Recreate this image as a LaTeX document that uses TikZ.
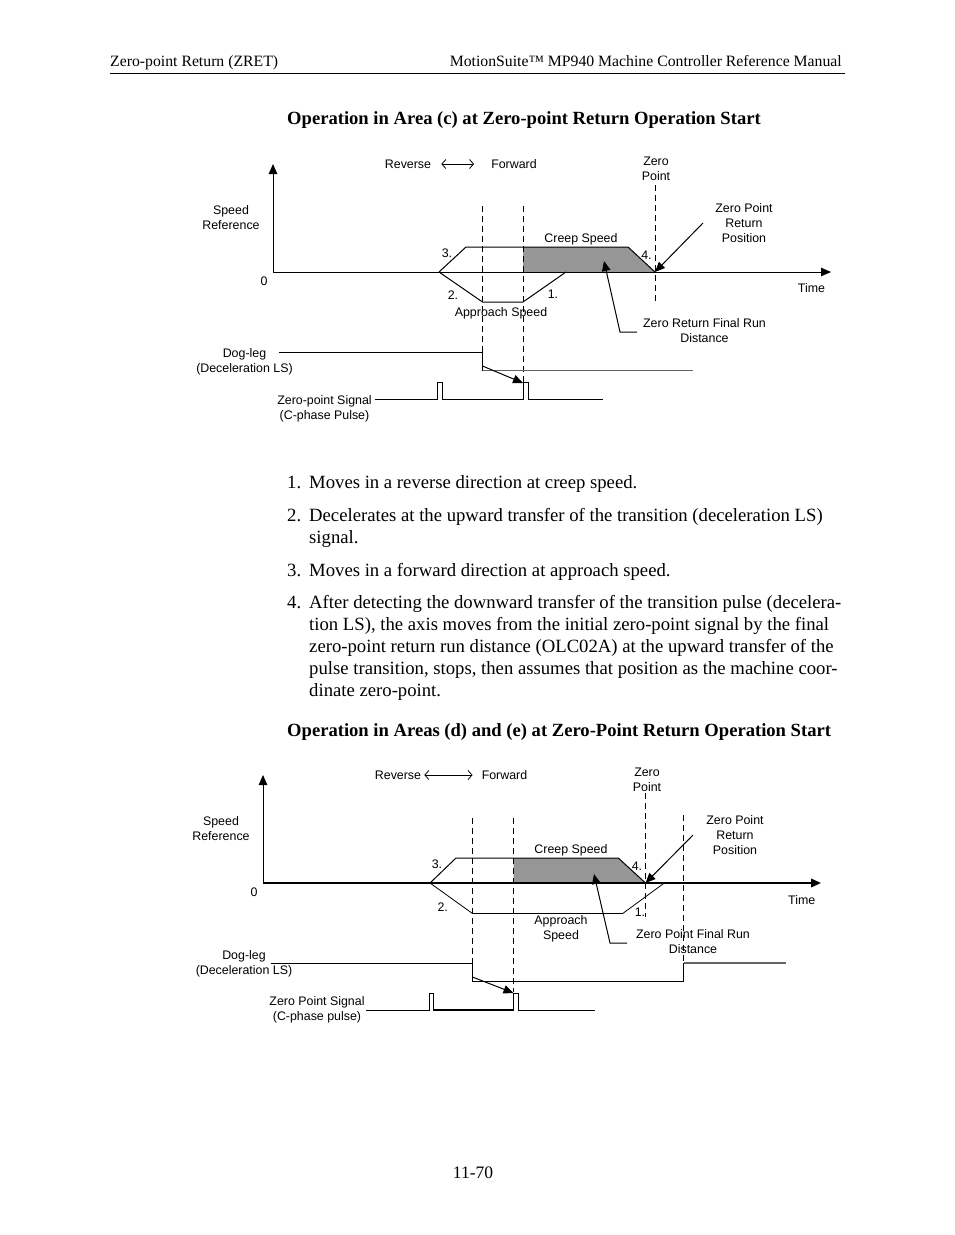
\documentclass[tikz,border=0pt]{standalone}
\usepackage{fontspec}
\setmainfont{Liberation Serif}
\newfontfamily\diagfont{Liberation Sans}
\usetikzlibrary{arrows.meta}
\definecolor{fillgray}{RGB}{150,150,150}
\definecolor{siggray}{RGB}{100,100,100}
\begin{document}
\begin{tikzpicture}[x=1pt,y=-1pt,
  lbl/.style={font=\diagfont\fontsize{12.4}{15}\selectfont, inner sep=0pt, align=center},
  bodytxt/.style={font=\fontsize{18.7}{22}\selectfont, inner sep=0pt, anchor=base west},
  ttl/.style={font=\bfseries\fontsize{18.6}{22}\selectfont, inner sep=0pt, anchor=base west},
  hdr/.style={font=\fontsize{15.75}{18}\selectfont, inner sep=0pt},
  ln/.style={line width=1pt},
  dsh/.style={line width=0.9pt, dash pattern=on 6pt off 4pt},
  arr/.style={line width=1pt, -{Triangle[length=10pt,width=8.5pt]}},
  dblarr/.style={line width=0.8pt, {Straight Barb[length=4pt,width=9pt]}-{Straight Barb[length=4pt,width=9pt]}},
]
\fill[white] (0,0) rectangle (954,1235);
\useasboundingbox (0,0) rectangle (954,1235);

% ---------- header ----------
\node[hdr, anchor=base west] (hl) at (110,66) {Zero-point Return (ZRET)};
\node[hdr, anchor=base east] (hr) at (842,66) {MotionSuite™ MP940 Machine Controller Reference Manual};
\draw[line width=1pt] (110,73) -- (845,73);

% ---------- title 1 ----------
\node[ttl] (t1) at (287,124) {Operation in Area (c) at Zero-point Return Operation Start};

% ---------- diagram 1 ----------
\coordinate (o1) at (273,272);
\coordinate (yt1) at (273,164);
\coordinate (xt1) at (831,272);
\fill[fillgray] (523,247) -- (628,247) -- (655,272) -- (523,272) -- cycle;
\draw[arr] (o1) -- (yt1);
\draw[arr] (o1) -- (xt1);
\draw[ln] (439,272) -- (466,247) -- (628,247) -- (655,272);
\draw[ln] (439,272) -- (482.5,302) -- (523,302) -- (566,272);

\node[lbl, anchor=base] (rev1) at (408,168.5) {Reverse};
\node[lbl, anchor=base] (fwd1) at (514,168.5) {Forward};
\draw[dblarr] ([xshift=10pt]rev1.east |- 0,164) -- ([xshift=-17pt]fwd1.west |- 0,164);
\node[lbl] (zp1) at (656,168.5) {Zero\\Point};
\node[lbl] (sr1) at (231,218) {Speed\\Reference};
\node[lbl, anchor=base] (z1) at (264,285.5) {0};
\node[lbl] (zrp1) at (744,223.5) {Zero Point\\Return\\Position};
\node[lbl, anchor=base] (cs1) at (581,242.5) {Creep Speed};
\node[lbl, anchor=base] (n31) at (447,257) {3.};
\node[lbl, anchor=base] (n41) at (646.5,259.5) {4.};
\node[lbl, anchor=base] (n21) at (453,299.5) {2.};
\node[lbl, anchor=base] (n11) at (553,298.5) {1.};
\node[lbl, anchor=base] (as1) at (501,316.5) {Approach Speed};
\node[lbl] (zfr1) at (704.5,330.5) {Zero Return Final Run\\Distance};
\node[lbl, anchor=base] (tm1) at (811.5,292.5) {Time};
\node[lbl] (dl1) at (244.5,362) {Dog-leg\\(Deceleration LS)};
\node[lbl] (zs1) at (324.5,408.5) {Zero-point Signal\\(C-phase Pulse)};

\draw[dsh] (482.5,206) -- (482.5,352);
\draw[dsh] (523,206) -- (523,383);
\draw[dsh] (655,185) -- (655,303);

\coordinate (zra1) at (703,223);
\coordinate (zrb1) at (655,272);
\draw[arr] (zra1) -- (zrb1);
\coordinate (lda1) at (637,332);
\coordinate (ldb1) at (620,332);
\coordinate (ldc1) at (604,261);
\draw[arr] (lda1) -- (ldb1) -- (ldc1);

\draw[ln] (279,352) -- (482.5,352) -- (482.5,370.5);
\draw[ln, siggray] (482.5,370.5) -- (693,370.5);
\coordinate (dga1) at (482.5,366);
\coordinate (dgb1) at (523,383);
\draw[arr] (dga1) -- (dgb1);
\draw[ln] (375,399) -- (437.7,399) -- (437.7,382.7) -- (442.3,382.7) -- (442.3,399) -- (523.3,399) -- (523.3,382.7) -- (528.3,382.7) -- (528.3,399) -- (603,399);

% ---------- list ----------
\node[bodytxt] (l1) at (287,488) {\makebox[22pt][l]{1.}Moves in a reverse direction at creep speed.};
\node[bodytxt] (l2) at (287,521) {\makebox[22pt][l]{2.}Decelerates at the upward transfer of the transition (deceleration LS)};
\node[bodytxt] (l2b) at (309,543) {signal.};
\node[bodytxt] (l3) at (287,576) {\makebox[22pt][l]{3.}Moves in a forward direction at approach speed.};
\node[bodytxt] (l4) at (287,608) {\makebox[22pt][l]{4.}After detecting the downward transfer of the transition pulse (decelera-};
\node[bodytxt] (l4b) at (309,630) {tion LS), the axis moves from the initial zero-point signal by the final};
\node[bodytxt] (l4c) at (309,652) {zero-point return run distance (OLC02A) at the upward transfer of the};
\node[bodytxt] (l4d) at (309,674) {pulse transition, stops, then assumes that position as the machine coor-};
\node[bodytxt] (l4e) at (309,696) {dinate zero-point.};

% ---------- title 2 ----------
\node[ttl] (t2) at (287,736) {Operation in Areas (d) and (e) at Zero-Point Return Operation Start};

% ---------- diagram 2 ----------
\coordinate (o2) at (263,883);
\coordinate (yt2) at (263,775);
\coordinate (xt2) at (821,883);
\fill[fillgray] (513.5,858) -- (618.3,858) -- (645.5,883) -- (513.5,883) -- cycle;
\draw[arr] (o2) -- (yt2);
\draw[arr, line width=2pt] (o2) -- (xt2);
\draw[ln] (430,883) -- (456,858) -- (618.3,858) -- (645.5,883);
\draw[line width=0.8pt] (430,883) -- (472.5,913.5) -- (622.7,913.5) -- (664.3,883);

\node[lbl, anchor=base] (rev2) at (398,779.5) {Reverse};
\node[lbl, anchor=base] (fwd2) at (504.5,779.5) {Forward};
\draw[dblarr] ([xshift=3pt]rev2.east |- 0,775) -- ([xshift=-9pt]fwd2.west |- 0,775);
\node[lbl] (zp2) at (647,780) {Zero\\Point};
\node[lbl] (sr2) at (221,829) {Speed\\Reference};
\node[lbl, anchor=base] (z2) at (254,896) {0};
\node[lbl] (zrp2) at (735,835) {Zero Point\\Return\\Position};
\node[lbl, anchor=base] (cs2) at (571,853.5) {Creep Speed};
\node[lbl, anchor=base] (n32) at (437,868.5) {3.};
\node[lbl, anchor=base] (n42) at (637,870.5) {4.};
\node[lbl, anchor=base] (n22) at (442.7,911) {2.};
\node[lbl, anchor=base] (n12) at (640,916) {1.};
\node[lbl] (as2) at (561,929) {Approach\\Speed};
\node[lbl] (zfr2) at (693,942) {Zero Point Final Run\\Distance};
\node[lbl, anchor=base] (tm2) at (801.7,904.5) {Time};
\node[lbl] (dl2) at (244,964) {Dog-leg\\(Deceleration LS)};
\node[lbl] (zs2) at (317,1009.5) {Zero Point Signal\\(C-phase pulse)};

\draw[dsh] (472.5,818) -- (472.5,963);
\draw[dsh] (513.5,818) -- (513.5,992);
\draw[dsh] (645.5,793) -- (645.5,917);
\draw[dsh] (683.5,815) -- (683.5,963);

\coordinate (zra2) at (693,835);
\coordinate (zrb2) at (645.5,883);
\draw[arr] (zra2) -- (zrb2);
\coordinate (lda2) at (627,943);
\coordinate (ldb2) at (610,943);
\coordinate (ldc2) at (594,874);
\draw[arr] (lda2) -- (ldb2) -- (ldc2);

\draw[ln] (271,963) -- (472.5,963) -- (472.5,981.5) -- (683.5,981.5) -- (683.5,963);
\draw[ln, siggray, line width=1.5pt] (683.5,963) -- (786,963);
\coordinate (dga2) at (472.5,977);
\coordinate (dgb2) at (513.5,993);
\draw[arr] (dga2) -- (dgb2);
\draw[ln] (366,1010) -- (429.5,1010) -- (429.5,993) -- (433,993) -- (433,1010);
\draw[line width=1.8pt] (433,1010) -- (513.5,1010);
\draw[ln] (513.5,1010) -- (513.5,993) -- (518.5,993) -- (518.5,1010) -- (595,1010);

% ---------- page number ----------
\node[hdr, anchor=base, font=\fontsize{17.5}{20}\selectfont] (pg) at (473,1178) {11-70};
\end{tikzpicture}
\end{document}
